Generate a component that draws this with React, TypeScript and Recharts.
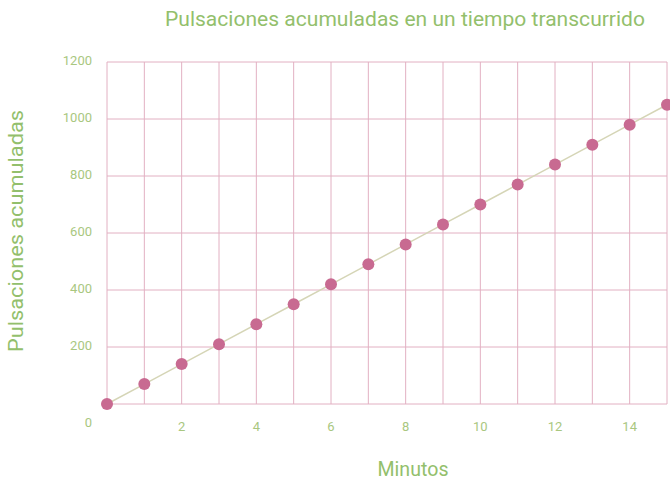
import React from 'react';
import { LineChart, Line, XAxis, YAxis, CartesianGrid, Customized } from 'recharts';

const minutes = [0, 1, 2, 3, 4, 5, 6, 7, 8, 9, 10, 11, 12, 13, 14, 15];
const pulsaciones = [0, 70, 140, 210, 280, 350, 420, 490, 560, 630, 700, 770, 840, 910, 980, 1050];
const xTicks = [0, 1, 2, 3, 4, 5, 6, 7, 8, 9, 10, 11, 12, 13, 14, 15];
const xLabelTicks = [2, 4, 6, 8, 10, 12, 14];
const yTicks = [0, 200, 400, 600, 800, 1000, 1200];

const title = 'Pulsaciones acumuladas en un tiempo transcurrido';
const xTitle = 'Minutos';
const yTitle = 'Pulsaciones acumuladas';

const data = minutes.map((m, i) => ({ m, p: pulsaciones[i] }));

const FONT = 'Roboto, "Noto Sans", sans-serif';
const GREEN = '#93bf6c';
const TICK_GREEN = '#a9c77f';
const GRID = '#e2b0c2';
const DOT = '#c86a91';
const LINE = '#d5d5b6';

const XTick = (props: any) => {
  const { x, y, payload } = props;
  if (!xLabelTicks.includes(payload.value)) return null;
  return (
    <text x={x} y={y} textAnchor="middle" dominantBaseline="middle" fill={TICK_GREEN} fontSize={13} fontFamily={FONT}>
      {payload.value}
    </text>
  );
};

const YTick = (props: any) => {
  const { x, y, payload } = props;
  const dy = payload.value === 0 ? 20 : 0;
  return (
    <text x={x} y={y + dy} textAnchor="end" dominantBaseline="middle" fill={TICK_GREEN} fontSize={13} fontFamily={FONT}>
      {payload.value}
    </text>
  );
};

const Titles = () => (
  <g>
    <text x={405} y={20} textAnchor="middle" dominantBaseline="middle" fill={GREEN} fontSize={21} fontFamily={FONT} textLength={480} lengthAdjust="spacingAndGlyphs">
      {title}
    </text>
    <text x={413} y={470} textAnchor="middle" dominantBaseline="middle" fill={GREEN} fontSize={21} fontFamily={FONT} textLength={71} lengthAdjust="spacingAndGlyphs">
      {xTitle}
    </text>
    <text x={17} y={231} transform="rotate(-90 17 231)" textAnchor="middle" dominantBaseline="middle" fill={GREEN} fontSize={21} fontFamily={FONT} textLength={242} lengthAdjust="spacingAndGlyphs">
      {yTitle}
    </text>
  </g>
);

export default function App() {
  return (
    <div style={{ position: 'absolute', left: 0, top: 0, background: '#fff' }}>
      <LineChart width={670} height={481} data={data} margin={{ top: 62, right: 3, bottom: 0, left: 0 }}>
        <CartesianGrid stroke={GRID} strokeWidth={1} />
        <XAxis
          dataKey="m"
          type="number"
          domain={[0, 15]}
          ticks={xTicks}
          interval={0}
          tick={<XTick />}
          tickLine={false}
          axisLine={false}
          tickSize={0}
          tickMargin={24}
          height={77}
        />
        <YAxis
          type="number"
          domain={[0, 1200]}
          ticks={yTicks}
          interval={0}
          tick={<YTick />}
          tickLine={false}
          axisLine={false}
          tickSize={0}
          tickMargin={15}
          width={107}
        />
        <Line
          type="linear"
          dataKey="p"
          stroke={LINE}
          strokeWidth={1.5}
          dot={{ r: 6, fill: DOT, stroke: DOT, strokeWidth: 0 }}
          isAnimationActive={false}
        />
        <Customized component={Titles} />
      </LineChart>
    </div>
  );
}
